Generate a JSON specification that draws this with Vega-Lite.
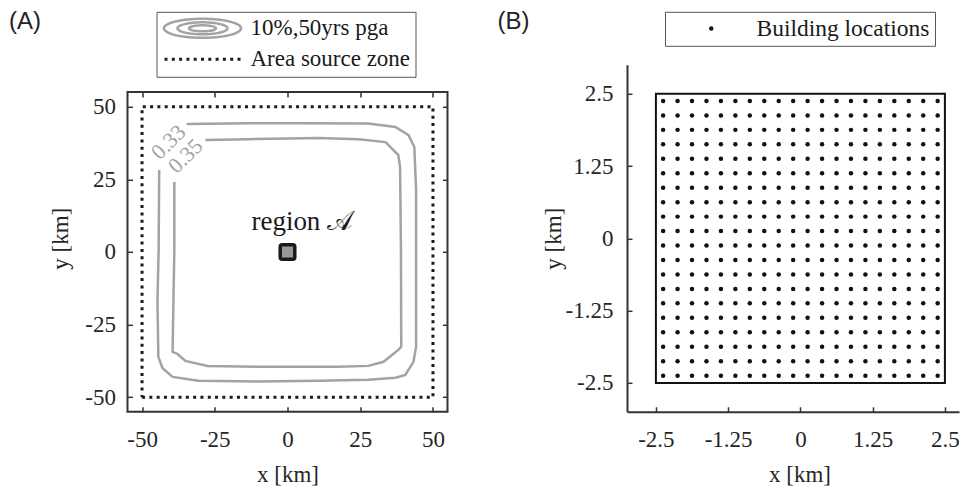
{
  "$schema": "https://vega.github.io/schema/vega-lite/v6.json",
  "background": "white",
  "padding": {"left": 8.5, "top": 8.8, "right": 0, "bottom": 0},
  "spacing": 48.5,
  "datasets": {
    "frame": [{"x1": -55, "x2": 55, "y1": -55, "y2": 55}],
    "zone": [
      {"i": 0, "x": -50, "y": -50}, {"i": 1, "x": 50, "y": -50}, {"i": 2, "x": 50, "y": 50},
      {"i": 3, "x": -50, "y": 50}, {"i": 4, "x": -50, "y": -50}
    ],
    "contours": [
      {"level": "0.33", "i": 0, "x": -34.7, "y": 44.0},
      {"level": "0.33", "i": 1, "x": -13.4, "y": 44.3},
      {"level": "0.33", "i": 2, "x": 3.8, "y": 44.3},
      {"level": "0.33", "i": 3, "x": 27.8, "y": 44.2},
      {"level": "0.33", "i": 4, "x": 37.1, "y": 43.0},
      {"level": "0.33", "i": 5, "x": 41.6, "y": 40.2},
      {"level": "0.33", "i": 6, "x": 43.6, "y": 36.1},
      {"level": "0.33", "i": 7, "x": 44.2, "y": 21.3},
      {"level": "0.33", "i": 8, "x": 44.2, "y": 0.7},
      {"level": "0.33", "i": 9, "x": 44.2, "y": -32.6},
      {"level": "0.33", "i": 10, "x": 43.3, "y": -37.8},
      {"level": "0.33", "i": 11, "x": 40.5, "y": -42.3},
      {"level": "0.33", "i": 12, "x": 37.1, "y": -43.3},
      {"level": "0.33", "i": 13, "x": 27.8, "y": -44.0},
      {"level": "0.33", "i": 14, "x": 10.7, "y": -44.3},
      {"level": "0.33", "i": 15, "x": -10.3, "y": -44.6},
      {"level": "0.33", "i": 16, "x": -30.6, "y": -44.3},
      {"level": "0.33", "i": 17, "x": -39.5, "y": -43.0},
      {"level": "0.33", "i": 18, "x": -43.0, "y": -39.9},
      {"level": "0.33", "i": 19, "x": -44.4, "y": -36.1},
      {"level": "0.33", "i": 20, "x": -44.7, "y": -16.5},
      {"level": "0.33", "i": 21, "x": -44.3, "y": 0.7},
      {"level": "0.33", "i": 22, "x": -44.1, "y": 28.2},
      {"level": "0.35", "i": 0, "x": -28.2, "y": 38.5},
      {"level": "0.35", "i": 1, "x": -13.4, "y": 38.8},
      {"level": "0.35", "i": 2, "x": 0.3, "y": 39.0},
      {"level": "0.35", "i": 3, "x": 10.7, "y": 39.2},
      {"level": "0.35", "i": 4, "x": 24.4, "y": 38.8},
      {"level": "0.35", "i": 5, "x": 33.7, "y": 37.8},
      {"level": "0.35", "i": 6, "x": 35.4, "y": 36.1},
      {"level": "0.35", "i": 7, "x": 38.1, "y": 33.3},
      {"level": "0.35", "i": 8, "x": 38.7, "y": 29.2},
      {"level": "0.35", "i": 9, "x": 39.0, "y": 0.7},
      {"level": "0.35", "i": 10, "x": 39.1, "y": -32.6},
      {"level": "0.35", "i": 11, "x": 38.1, "y": -33.7},
      {"level": "0.35", "i": 12, "x": 33.0, "y": -37.8},
      {"level": "0.35", "i": 13, "x": 27.8, "y": -39.2},
      {"level": "0.35", "i": 14, "x": 17.5, "y": -39.5},
      {"level": "0.35", "i": 15, "x": -10.3, "y": -39.5},
      {"level": "0.35", "i": 16, "x": -27.5, "y": -39.2},
      {"level": "0.35", "i": 17, "x": -35.1, "y": -37.5},
      {"level": "0.35", "i": 18, "x": -37.8, "y": -35.1},
      {"level": "0.35", "i": 19, "x": -39.5, "y": -34.4},
      {"level": "0.35", "i": 20, "x": -39.2, "y": -16.5},
      {"level": "0.35", "i": 21, "x": -38.9, "y": 0.7},
      {"level": "0.35", "i": 22, "x": -38.9, "y": 24.1}
    ],
    "contourLabels": [
      {"x": -40.9, "y": 37.8, "text": "0.33"},
      {"x": -35.1, "y": 33.0, "text": "0.35"}
    ],
    "region": [{"x1": -2.5, "x2": 2.5, "y1": -2.5, "y2": 2.5}],
    "regionLabel": [{"x": -12.4, "y": 7.6, "text": "region 𝒜"}],
    "site": [{"x1": -2.5, "x2": 2.5, "y1": -2.5, "y2": 2.5}],
    "buildings": [
      {"x":-2.375,"y":-2.375},{"x":-2.125,"y":-2.375},{"x":-1.875,"y":-2.375},{"x":-1.625,"y":-2.375},{"x":-1.375,"y":-2.375},{"x":-1.125,"y":-2.375},{"x":-0.875,"y":-2.375},{"x":-0.625,"y":-2.375},{"x":-0.375,"y":-2.375},{"x":-0.125,"y":-2.375},{"x":0.125,"y":-2.375},{"x":0.375,"y":-2.375},{"x":0.625,"y":-2.375},{"x":0.875,"y":-2.375},{"x":1.125,"y":-2.375},{"x":1.375,"y":-2.375},{"x":1.625,"y":-2.375},{"x":1.875,"y":-2.375},{"x":2.125,"y":-2.375},{"x":2.375,"y":-2.375},
      {"x":-2.375,"y":-2.125},{"x":-2.125,"y":-2.125},{"x":-1.875,"y":-2.125},{"x":-1.625,"y":-2.125},{"x":-1.375,"y":-2.125},{"x":-1.125,"y":-2.125},{"x":-0.875,"y":-2.125},{"x":-0.625,"y":-2.125},{"x":-0.375,"y":-2.125},{"x":-0.125,"y":-2.125},{"x":0.125,"y":-2.125},{"x":0.375,"y":-2.125},{"x":0.625,"y":-2.125},{"x":0.875,"y":-2.125},{"x":1.125,"y":-2.125},{"x":1.375,"y":-2.125},{"x":1.625,"y":-2.125},{"x":1.875,"y":-2.125},{"x":2.125,"y":-2.125},{"x":2.375,"y":-2.125},
      {"x":-2.375,"y":-1.875},{"x":-2.125,"y":-1.875},{"x":-1.875,"y":-1.875},{"x":-1.625,"y":-1.875},{"x":-1.375,"y":-1.875},{"x":-1.125,"y":-1.875},{"x":-0.875,"y":-1.875},{"x":-0.625,"y":-1.875},{"x":-0.375,"y":-1.875},{"x":-0.125,"y":-1.875},{"x":0.125,"y":-1.875},{"x":0.375,"y":-1.875},{"x":0.625,"y":-1.875},{"x":0.875,"y":-1.875},{"x":1.125,"y":-1.875},{"x":1.375,"y":-1.875},{"x":1.625,"y":-1.875},{"x":1.875,"y":-1.875},{"x":2.125,"y":-1.875},{"x":2.375,"y":-1.875},
      {"x":-2.375,"y":-1.625},{"x":-2.125,"y":-1.625},{"x":-1.875,"y":-1.625},{"x":-1.625,"y":-1.625},{"x":-1.375,"y":-1.625},{"x":-1.125,"y":-1.625},{"x":-0.875,"y":-1.625},{"x":-0.625,"y":-1.625},{"x":-0.375,"y":-1.625},{"x":-0.125,"y":-1.625},{"x":0.125,"y":-1.625},{"x":0.375,"y":-1.625},{"x":0.625,"y":-1.625},{"x":0.875,"y":-1.625},{"x":1.125,"y":-1.625},{"x":1.375,"y":-1.625},{"x":1.625,"y":-1.625},{"x":1.875,"y":-1.625},{"x":2.125,"y":-1.625},{"x":2.375,"y":-1.625},
      {"x":-2.375,"y":-1.375},{"x":-2.125,"y":-1.375},{"x":-1.875,"y":-1.375},{"x":-1.625,"y":-1.375},{"x":-1.375,"y":-1.375},{"x":-1.125,"y":-1.375},{"x":-0.875,"y":-1.375},{"x":-0.625,"y":-1.375},{"x":-0.375,"y":-1.375},{"x":-0.125,"y":-1.375},{"x":0.125,"y":-1.375},{"x":0.375,"y":-1.375},{"x":0.625,"y":-1.375},{"x":0.875,"y":-1.375},{"x":1.125,"y":-1.375},{"x":1.375,"y":-1.375},{"x":1.625,"y":-1.375},{"x":1.875,"y":-1.375},{"x":2.125,"y":-1.375},{"x":2.375,"y":-1.375},
      {"x":-2.375,"y":-1.125},{"x":-2.125,"y":-1.125},{"x":-1.875,"y":-1.125},{"x":-1.625,"y":-1.125},{"x":-1.375,"y":-1.125},{"x":-1.125,"y":-1.125},{"x":-0.875,"y":-1.125},{"x":-0.625,"y":-1.125},{"x":-0.375,"y":-1.125},{"x":-0.125,"y":-1.125},{"x":0.125,"y":-1.125},{"x":0.375,"y":-1.125},{"x":0.625,"y":-1.125},{"x":0.875,"y":-1.125},{"x":1.125,"y":-1.125},{"x":1.375,"y":-1.125},{"x":1.625,"y":-1.125},{"x":1.875,"y":-1.125},{"x":2.125,"y":-1.125},{"x":2.375,"y":-1.125},
      {"x":-2.375,"y":-0.875},{"x":-2.125,"y":-0.875},{"x":-1.875,"y":-0.875},{"x":-1.625,"y":-0.875},{"x":-1.375,"y":-0.875},{"x":-1.125,"y":-0.875},{"x":-0.875,"y":-0.875},{"x":-0.625,"y":-0.875},{"x":-0.375,"y":-0.875},{"x":-0.125,"y":-0.875},{"x":0.125,"y":-0.875},{"x":0.375,"y":-0.875},{"x":0.625,"y":-0.875},{"x":0.875,"y":-0.875},{"x":1.125,"y":-0.875},{"x":1.375,"y":-0.875},{"x":1.625,"y":-0.875},{"x":1.875,"y":-0.875},{"x":2.125,"y":-0.875},{"x":2.375,"y":-0.875},
      {"x":-2.375,"y":-0.625},{"x":-2.125,"y":-0.625},{"x":-1.875,"y":-0.625},{"x":-1.625,"y":-0.625},{"x":-1.375,"y":-0.625},{"x":-1.125,"y":-0.625},{"x":-0.875,"y":-0.625},{"x":-0.625,"y":-0.625},{"x":-0.375,"y":-0.625},{"x":-0.125,"y":-0.625},{"x":0.125,"y":-0.625},{"x":0.375,"y":-0.625},{"x":0.625,"y":-0.625},{"x":0.875,"y":-0.625},{"x":1.125,"y":-0.625},{"x":1.375,"y":-0.625},{"x":1.625,"y":-0.625},{"x":1.875,"y":-0.625},{"x":2.125,"y":-0.625},{"x":2.375,"y":-0.625},
      {"x":-2.375,"y":-0.375},{"x":-2.125,"y":-0.375},{"x":-1.875,"y":-0.375},{"x":-1.625,"y":-0.375},{"x":-1.375,"y":-0.375},{"x":-1.125,"y":-0.375},{"x":-0.875,"y":-0.375},{"x":-0.625,"y":-0.375},{"x":-0.375,"y":-0.375},{"x":-0.125,"y":-0.375},{"x":0.125,"y":-0.375},{"x":0.375,"y":-0.375},{"x":0.625,"y":-0.375},{"x":0.875,"y":-0.375},{"x":1.125,"y":-0.375},{"x":1.375,"y":-0.375},{"x":1.625,"y":-0.375},{"x":1.875,"y":-0.375},{"x":2.125,"y":-0.375},{"x":2.375,"y":-0.375},
      {"x":-2.375,"y":-0.125},{"x":-2.125,"y":-0.125},{"x":-1.875,"y":-0.125},{"x":-1.625,"y":-0.125},{"x":-1.375,"y":-0.125},{"x":-1.125,"y":-0.125},{"x":-0.875,"y":-0.125},{"x":-0.625,"y":-0.125},{"x":-0.375,"y":-0.125},{"x":-0.125,"y":-0.125},{"x":0.125,"y":-0.125},{"x":0.375,"y":-0.125},{"x":0.625,"y":-0.125},{"x":0.875,"y":-0.125},{"x":1.125,"y":-0.125},{"x":1.375,"y":-0.125},{"x":1.625,"y":-0.125},{"x":1.875,"y":-0.125},{"x":2.125,"y":-0.125},{"x":2.375,"y":-0.125},
      {"x":-2.375,"y":0.125},{"x":-2.125,"y":0.125},{"x":-1.875,"y":0.125},{"x":-1.625,"y":0.125},{"x":-1.375,"y":0.125},{"x":-1.125,"y":0.125},{"x":-0.875,"y":0.125},{"x":-0.625,"y":0.125},{"x":-0.375,"y":0.125},{"x":-0.125,"y":0.125},{"x":0.125,"y":0.125},{"x":0.375,"y":0.125},{"x":0.625,"y":0.125},{"x":0.875,"y":0.125},{"x":1.125,"y":0.125},{"x":1.375,"y":0.125},{"x":1.625,"y":0.125},{"x":1.875,"y":0.125},{"x":2.125,"y":0.125},{"x":2.375,"y":0.125},
      {"x":-2.375,"y":0.375},{"x":-2.125,"y":0.375},{"x":-1.875,"y":0.375},{"x":-1.625,"y":0.375},{"x":-1.375,"y":0.375},{"x":-1.125,"y":0.375},{"x":-0.875,"y":0.375},{"x":-0.625,"y":0.375},{"x":-0.375,"y":0.375},{"x":-0.125,"y":0.375},{"x":0.125,"y":0.375},{"x":0.375,"y":0.375},{"x":0.625,"y":0.375},{"x":0.875,"y":0.375},{"x":1.125,"y":0.375},{"x":1.375,"y":0.375},{"x":1.625,"y":0.375},{"x":1.875,"y":0.375},{"x":2.125,"y":0.375},{"x":2.375,"y":0.375},
      {"x":-2.375,"y":0.625},{"x":-2.125,"y":0.625},{"x":-1.875,"y":0.625},{"x":-1.625,"y":0.625},{"x":-1.375,"y":0.625},{"x":-1.125,"y":0.625},{"x":-0.875,"y":0.625},{"x":-0.625,"y":0.625},{"x":-0.375,"y":0.625},{"x":-0.125,"y":0.625},{"x":0.125,"y":0.625},{"x":0.375,"y":0.625},{"x":0.625,"y":0.625},{"x":0.875,"y":0.625},{"x":1.125,"y":0.625},{"x":1.375,"y":0.625},{"x":1.625,"y":0.625},{"x":1.875,"y":0.625},{"x":2.125,"y":0.625},{"x":2.375,"y":0.625},
      {"x":-2.375,"y":0.875},{"x":-2.125,"y":0.875},{"x":-1.875,"y":0.875},{"x":-1.625,"y":0.875},{"x":-1.375,"y":0.875},{"x":-1.125,"y":0.875},{"x":-0.875,"y":0.875},{"x":-0.625,"y":0.875},{"x":-0.375,"y":0.875},{"x":-0.125,"y":0.875},{"x":0.125,"y":0.875},{"x":0.375,"y":0.875},{"x":0.625,"y":0.875},{"x":0.875,"y":0.875},{"x":1.125,"y":0.875},{"x":1.375,"y":0.875},{"x":1.625,"y":0.875},{"x":1.875,"y":0.875},{"x":2.125,"y":0.875},{"x":2.375,"y":0.875},
      {"x":-2.375,"y":1.125},{"x":-2.125,"y":1.125},{"x":-1.875,"y":1.125},{"x":-1.625,"y":1.125},{"x":-1.375,"y":1.125},{"x":-1.125,"y":1.125},{"x":-0.875,"y":1.125},{"x":-0.625,"y":1.125},{"x":-0.375,"y":1.125},{"x":-0.125,"y":1.125},{"x":0.125,"y":1.125},{"x":0.375,"y":1.125},{"x":0.625,"y":1.125},{"x":0.875,"y":1.125},{"x":1.125,"y":1.125},{"x":1.375,"y":1.125},{"x":1.625,"y":1.125},{"x":1.875,"y":1.125},{"x":2.125,"y":1.125},{"x":2.375,"y":1.125},
      {"x":-2.375,"y":1.375},{"x":-2.125,"y":1.375},{"x":-1.875,"y":1.375},{"x":-1.625,"y":1.375},{"x":-1.375,"y":1.375},{"x":-1.125,"y":1.375},{"x":-0.875,"y":1.375},{"x":-0.625,"y":1.375},{"x":-0.375,"y":1.375},{"x":-0.125,"y":1.375},{"x":0.125,"y":1.375},{"x":0.375,"y":1.375},{"x":0.625,"y":1.375},{"x":0.875,"y":1.375},{"x":1.125,"y":1.375},{"x":1.375,"y":1.375},{"x":1.625,"y":1.375},{"x":1.875,"y":1.375},{"x":2.125,"y":1.375},{"x":2.375,"y":1.375},
      {"x":-2.375,"y":1.625},{"x":-2.125,"y":1.625},{"x":-1.875,"y":1.625},{"x":-1.625,"y":1.625},{"x":-1.375,"y":1.625},{"x":-1.125,"y":1.625},{"x":-0.875,"y":1.625},{"x":-0.625,"y":1.625},{"x":-0.375,"y":1.625},{"x":-0.125,"y":1.625},{"x":0.125,"y":1.625},{"x":0.375,"y":1.625},{"x":0.625,"y":1.625},{"x":0.875,"y":1.625},{"x":1.125,"y":1.625},{"x":1.375,"y":1.625},{"x":1.625,"y":1.625},{"x":1.875,"y":1.625},{"x":2.125,"y":1.625},{"x":2.375,"y":1.625},
      {"x":-2.375,"y":1.875},{"x":-2.125,"y":1.875},{"x":-1.875,"y":1.875},{"x":-1.625,"y":1.875},{"x":-1.375,"y":1.875},{"x":-1.125,"y":1.875},{"x":-0.875,"y":1.875},{"x":-0.625,"y":1.875},{"x":-0.375,"y":1.875},{"x":-0.125,"y":1.875},{"x":0.125,"y":1.875},{"x":0.375,"y":1.875},{"x":0.625,"y":1.875},{"x":0.875,"y":1.875},{"x":1.125,"y":1.875},{"x":1.375,"y":1.875},{"x":1.625,"y":1.875},{"x":1.875,"y":1.875},{"x":2.125,"y":1.875},{"x":2.375,"y":1.875},
      {"x":-2.375,"y":2.125},{"x":-2.125,"y":2.125},{"x":-1.875,"y":2.125},{"x":-1.625,"y":2.125},{"x":-1.375,"y":2.125},{"x":-1.125,"y":2.125},{"x":-0.875,"y":2.125},{"x":-0.625,"y":2.125},{"x":-0.375,"y":2.125},{"x":-0.125,"y":2.125},{"x":0.125,"y":2.125},{"x":0.375,"y":2.125},{"x":0.625,"y":2.125},{"x":0.875,"y":2.125},{"x":1.125,"y":2.125},{"x":1.375,"y":2.125},{"x":1.625,"y":2.125},{"x":1.875,"y":2.125},{"x":2.125,"y":2.125},{"x":2.375,"y":2.125},
      {"x":-2.375,"y":2.375},{"x":-2.125,"y":2.375},{"x":-1.875,"y":2.375},{"x":-1.625,"y":2.375},{"x":-1.375,"y":2.375},{"x":-1.125,"y":2.375},{"x":-0.875,"y":2.375},{"x":-0.625,"y":2.375},{"x":-0.375,"y":2.375},{"x":-0.125,"y":2.375},{"x":0.125,"y":2.375},{"x":0.375,"y":2.375},{"x":0.625,"y":2.375},{"x":0.875,"y":2.375},{"x":1.125,"y":2.375},{"x":1.375,"y":2.375},{"x":1.625,"y":2.375},{"x":1.875,"y":2.375},{"x":2.125,"y":2.375},{"x":2.375,"y":2.375}
    ]
  },
  "hconcat": [
    {
      "width": 320,
      "height": 347,
      "view": {"stroke": null},
      "title": {"text": "(A)", "anchor": "start", "frame": "group", "orient": "top", "baseline": "alphabetic", "offset": -16.9, "dx": -118.5, "dy": 24.4, "font": "Liberation Sans", "fontSize": 24, "fontWeight": "normal", "color": "#222222"},
      "layer": [
        {
          "data": {"name": "zone"},
          "mark": {"type": "line", "strokeDash": [3, 4.3], "strokeWidth": 3, "strokeCap": "butt"},
          "encoding": {
            "x": {"field": "x", "type": "quantitative", "scale": {"domain": [-55, 55], "nice": false, "zero": false},
                  "axis": {"orient": "bottom", "values": [-50, -25, 0, 25, 50], "labelExpr": "'' + datum.value", "labelFont": "Liberation Serif", "labelBaseline": "alphabetic", "labelPadding": 39.7, "domain": false, "title": "x [km]", "titlePadding": 12,
                           "encode": {"labels": {"update": {"font": {"value": "Liberation Serif"}}}}}},
            "y": {"field": "y", "type": "quantitative", "scale": {"domain": [-55, 64.4], "nice": false, "zero": false},
                  "axis": {"orient": "left", "values": [-50, -25, 0, 25, 50], "labelExpr": "'' + datum.value", "labelFont": "Liberation Serif", "labelPadding": 17, "domain": false, "title": "y [km]", "titlePadding": 12,
                           "encode": {"labels": {"update": {"font": {"value": "Liberation Serif"}}}}}},
            "order": {"field": "i", "type": "quantitative"},
            "stroke": {"datum": "Area source zone", "type": "nominal",
              "scale": {"domain": ["10%,50yrs pga", "Area source zone"], "range": ["#a3a3a3", "#1a1a1a"]},
              "legend": {
                "orient": "none", "legendX": 29, "legendY": -53, "title": null, "direction": "vertical",
                "symbolSize": 400, "symbolStrokeWidth": 2.5, "symbolOffset": 29.5,
                "labelFont": "Liberation Serif", "labelFontSize": 23, "labelColor": "#1a1a1a", "labelOffset": 36.5, "labelLimit": 500,
                "padding": 5, "rowPadding": 5, "strokeColor": "#555555", "fillColor": "white",
                "encode": {
                  "labels": {"update": {"text": {"signal": "datum.label + '\u00a0\u00a0\u00a0\u00a0\u00a0'"}}},
                  "symbols": {"update": {
                  "shape": {"signal": "(datum.value === 'Area source zone' ? 'M-3.8,0L3.8,0' : 'M3.85,0C3.85,0.53 2.13,0.95 0,0.95C-2.13,0.95 -3.85,0.53 -3.85,0C-3.85,-0.53 -2.13,-0.95 0,-0.95C2.13,-0.95 3.85,-0.53 3.85,0ZM2.5,0C2.5,0.33 1.38,0.6 0,0.6C-1.38,0.6 -2.5,0.33 -2.5,0C-2.5,-0.33 -1.38,-0.6 0,-0.6C1.38,-0.6 2.5,-0.33 2.5,0ZM1.35,0C1.35,0.166 0.746,0.3 0,0.3C-0.746,0.3 -1.35,0.166 -1.35,0C-1.35,-0.166 -0.746,-0.3 0,-0.3C0.746,-0.3 1.35,-0.166 1.35,0Z')"},
                  "strokeDash": {"signal": "(datum.value === 'Area source zone' ? [3, 4.3] : [1, 0])"},
                  "strokeWidth": {"signal": "(datum.value === 'Area source zone' ? 3 : 2.5)"},
                  "fill": {"value": "transparent"}
                }}}
              }}
          }
        },
        {
          "data": {"name": "frame"},
          "mark": {"type": "rect", "filled": false, "stroke": "#333333", "strokeWidth": 2},
          "encoding": {
            "x": {"field": "x1", "type": "quantitative", "scale": {"domain": [-55, 55], "nice": false, "zero": false},
                  "axis": {"orient": "top", "values": [-50, -25, 0, 25, 50], "labels": false, "domain": false, "title": null, "offset": -27.3}},
            "x2": {"field": "x2"},
            "y": {"field": "y1", "type": "quantitative", "scale": {"domain": [-55, 64.4], "nice": false, "zero": false},
                  "axis": {"orient": "right", "values": [-50, -25, 0, 25, 50], "labels": false, "domain": false, "title": null}},
            "y2": {"field": "y2"}
          }
        },
        {
          "data": {"name": "contours"},
          "mark": {"type": "line", "strokeWidth": 2.5},
          "encoding": {
            "x": {"field": "x", "type": "quantitative", "axis": null},
            "y": {"field": "y", "type": "quantitative", "axis": null},
            "detail": {"field": "level", "type": "nominal"},
            "order": {"field": "i", "type": "quantitative"},
            "stroke": {"datum": "10%,50yrs pga", "type": "nominal"}
          }
        },
        {
          "data": {"name": "contourLabels"},
          "mark": {"type": "text", "angle": -45, "align": "center", "baseline": "middle", "font": "Liberation Serif", "fontSize": 22, "fill": "#a3a3a3"},
          "encoding": {
            "x": {"field": "x", "type": "quantitative", "axis": null},
            "y": {"field": "y", "type": "quantitative", "axis": null},
            "text": {"field": "text"}
          }
        },
        {
          "data": {"name": "region"},
          "mark": {"type": "rect", "fill": "#999999", "stroke": "#1a1a1a", "strokeWidth": 3.5, "cornerRadius": 2},
          "encoding": {
            "x": {"field": "x1", "type": "quantitative", "axis": null},
            "x2": {"field": "x2"},
            "y": {"field": "y1", "type": "quantitative", "axis": null},
            "y2": {"field": "y2"}
          }
        },
        {
          "data": {"name": "regionLabel"},
          "mark": {"type": "text", "align": "left", "baseline": "alphabetic", "font": "Liberation Serif", "fontSize": 27, "fill": "#1a1a1a"},
          "encoding": {
            "x": {"field": "x", "type": "quantitative", "axis": null},
            "y": {"field": "y", "type": "quantitative", "axis": null},
            "text": {"field": "text"}
          }
        }
      ],
      "resolve": {"axis": {"x": "independent", "y": "independent"}}
    },
    {
      "width": 332,
      "height": 347,
      "view": {"stroke": null},
      "title": {"text": "(B)", "anchor": "start", "frame": "group", "orient": "top", "baseline": "alphabetic", "offset": -16.9, "dx": -129.5, "dy": 24.4, "font": "Liberation Sans", "fontSize": 24, "fontWeight": "normal", "color": "#222222"},
      "layer": [
        {
          "data": {"name": "site"},
          "mark": {"type": "rect", "filled": false, "stroke": "#111111", "strokeWidth": 2},
          "encoding": {
            "x": {"field": "x1", "type": "quantitative", "scale": {"domain": [-3, 2.744], "nice": false, "zero": false},
                  "axis": {"values": [-2.5, -1.25, 0, 1.25, 2.5], "labelExpr": "'' + datum.value", "labelFont": "Liberation Serif", "labelBaseline": "alphabetic", "labelPadding": 39.7, "title": "x [km]", "titlePadding": 12, "titleX": 172.5,
                           "encode": {"labels": {"update": {"font": {"value": "Liberation Serif"}}}}}},
            "x2": {"field": "x2"},
            "y": {"field": "y1", "type": "quantitative", "scale": {"domain": [-3, 3], "nice": false, "zero": false},
                  "axis": {"values": [-2.5, -1.25, 0, 1.25, 2.5], "labelExpr": "'' + datum.value", "labelFont": "Liberation Serif", "labelPadding": 19, "title": "y [km]", "titlePadding": 0,
                           "encode": {"labels": {"update": {"font": {"value": "Liberation Serif"}}}}}},
            "y2": {"field": "y2"}
          }
        },
        {
          "data": {"name": "buildings"},
          "mark": {"type": "point", "filled": true, "size": 20, "opacity": 1},
          "encoding": {
            "x": {"field": "x", "type": "quantitative"},
            "y": {"field": "y", "type": "quantitative"},
            "fill": {"datum": "Building locations", "type": "nominal", "scale": {"range": ["#111111"]},
              "legend": {
                "orient": "none", "legendX": 38, "legendY": -53, "title": null,
                "symbolType": "circle", "symbolSize": 20, "symbolStrokeWidth": 0, "symbolOffset": 29.5,
                "labelFont": "Liberation Serif", "labelFontSize": 23.5, "labelColor": "#1a1a1a", "labelOffset": 33.5, "labelLimit": 500,
                "padding": 5, "strokeColor": "#555555", "fillColor": "white"
              }}
          }
        }
      ]
    }
  ],
  "resolve": {
    "scale": {"x": "independent", "y": "independent", "stroke": "independent", "fill": "independent"},
    "legend": {"stroke": "independent", "fill": "independent"}
  },
  "config": {
    "font": "Liberation Serif",
    "style": {"guide-label": {"font": "Liberation Serif"}, "guide-title": {"font": "Liberation Serif"}},
    "axis": {
      "labelFont": "Liberation Serif", "labelFontSize": 23, "labelColor": "#262626",
      "titleFont": "Liberation Serif", "titleFontSize": 23, "titleFontWeight": "normal", "titleColor": "#262626",
      "domainColor": "#333333", "domainWidth": 2, "tickColor": "#333333", "tickWidth": 1.5, "tickSize": -5, "grid": false
    }
  }
}
